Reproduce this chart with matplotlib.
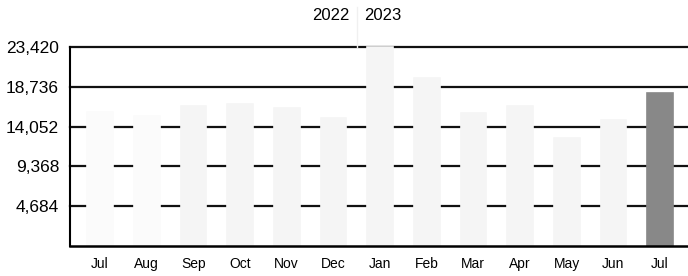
import matplotlib
matplotlib.use("Agg")
import matplotlib.pyplot as plt
import numpy as np

# monthly values, Jul 2022 .. Jul 2023
months = ["Jul", "Aug", "Sep", "Oct", "Nov", "Dec", "Jan",
          "Feb", "Mar", "Apr", "May", "Jun", "Jul"]
values = [15800, 15300, 16500, 16700, 16200, 15100, 23420,
          19800, 15600, 16500, 12700, 14800, 18000]
ticks = [4684, 9368, 14052, 18736, 23420]
tick_labels = ["4,684", "9,368", "14,052", "18,736", "23,420"]
years = ["2022", "2023"]

plt.rcParams["font.family"] = ["Liberation Sans", "DejaVu Sans"]

fig = plt.figure(figsize=(6.88, 2.76), dpi=100)
ax = fig.add_axes([0.102, 0.109, 0.898, 0.721])

x = np.arange(len(months))
colors = ["#fbfbfb", "#fbfbfb"] + ["#f5f5f5"] * (len(months) - 3) + ["#888888"]

# gridlines first, bars drawn over them
for t in ticks:
    ax.axhline(t, color="#111111", lw=1.6, zorder=1, clip_on=False)

ax.bar(x, values, width=0.55, color=colors, edgecolor=colors, lw=1.2,
       zorder=2, clip_on=False)

ax.set_xlim(-0.64, len(months) - 0.4)
ax.set_ylim(0, ticks[-1])
ax.set_yticks(ticks)
ax.set_yticklabels(tick_labels, fontsize=12.5)
ax.set_xticks(x)
ax.set_xticklabels(months, fontsize=10)
ax.tick_params(axis="y", length=0, pad=8)
ax.tick_params(axis="x", length=0, pad=8)

for s in ["top", "right"]:
    ax.spines[s].set_visible(False)
ax.spines["left"].set_linewidth(1.5)
ax.spines["bottom"].set_linewidth(1.8)

# year split between Dec and Jan
split = months.index("Jan") - 0.5
ax.axvline(split, ymin=1.0, ymax=1.2, color="#f0f0f0", lw=1, clip_on=False)
ax.text(split - 0.15, 1.16, years[0], transform=ax.get_xaxis_transform(),
        ha="right", va="center", fontsize=12)
ax.text(split + 0.15, 1.16, years[1], transform=ax.get_xaxis_transform(),
        ha="left", va="center", fontsize=12)

fig.savefig("out.png", dpi=100)
